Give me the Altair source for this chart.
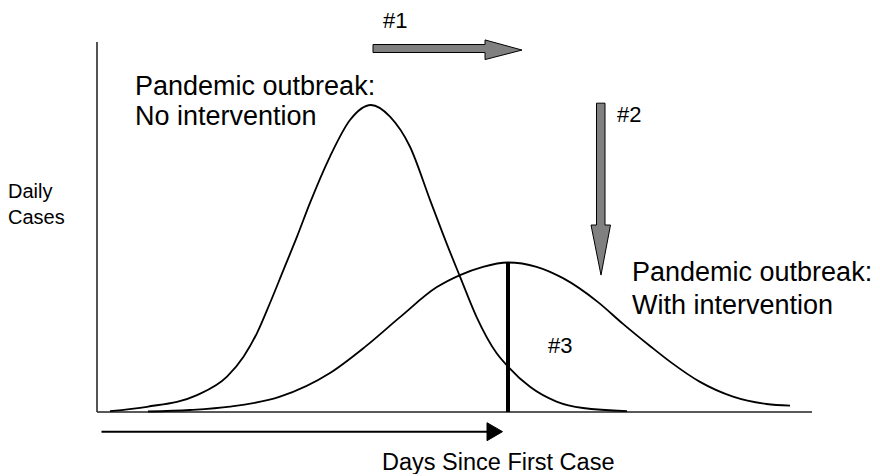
import altair as alt
import pandas as pd

# ---- data (days since first case, daily cases) ----
days_none = [2.6, 10.0, 20.0, 26.0, 29.3, 32.0, 34.6, 37.3, 40.0, 42.6, 46.6, 50.6, 54.8,
             58.6, 62.6, 66.6, 69.9, 72.6, 75.9, 79.9, 82.2, 86.6, 91.9, 97.2, 106.0]
cases_none = [0.3, 1.7, 5.5, 11.5, 18.0, 25.7, 35.5, 46.3, 57.1, 68.1, 83.2, 95.1, 100.0,
              96.2, 86.4, 69.1, 55.0, 44.1, 31.0, 19.2, 14.8, 8.2, 3.4, 1.3, 0.3]

days_int = [10.2, 18.6, 26.6, 36.6, 46.6, 53.6, 60.6, 67.9, 72.6, 77.2, 82.2, 87.9, 93.2,
            100.2, 105.2, 110.6, 114.6, 120.6, 127.2, 133.9, 138.6]
cases_int = [0.16, 0.65, 1.73, 4.98, 12.7, 21.2, 30.9, 40.6, 44.6, 47.3, 48.7, 47.3, 43.6,
             35.8, 28.7, 21.5, 16.4, 9.8, 5.0, 2.6, 2.05]

peak_day_int = 82.2
peak_cases_int = 48.7

X_DOMAIN = [-17.8, 155.0]
Y_DOMAIN = [-20.2, 131.6]

# axis frame
axis_x_end = 143.0
axis_y_end = 120.5

# arrow #1 (horizontal, pointing right): x, upper y, lower y
arr1_x = [55.2, 77.6, 77.61, 85.0]
arr1_y = [119.7, 119.7, 121.2, 117.9]
arr1_y2 = [117.1, 117.1, 114.8, 117.9]

# arrow #2 (vertical, pointing down): y, left x, right x
arr2_y = [44.6, 60.9, 60.91, 100.6]
arr2_x = [100.8, 98.8, 99.9, 99.9]
arr2_x2 = [100.8, 102.7, 101.6, 101.6]

# time arrow under the axis
time_shaft = [0.9, 78.5, -6.4]
time_head_x = [78.0, 81.1]
time_head_y = [-3.5, -6.4]
time_head_y2 = [-9.35, -6.4]

# labels
big_labels = ["Pandemic outbreak:", "No intervention", "Pandemic outbreak:", "With intervention"]
big_x = [7.6, 7.6, 107.0, 107.0]
big_y = [103.3, 93.5, 42.7, 31.9]

num_labels = ["#1", "#2", "#3"]
num_x = [57.2, 104.0, 90.2]
num_y = [125.1, 94.6, 19.2]

ylab = ["Daily", "Cases"]
ylab_x = [-17.8, -17.8]
ylab_y = [69.7, 61.2]

xlab = ["Days Since First Case"]
xlab_x = [57.0]
xlab_y = [-18.9]

FONT = "Liberation Sans"

xs = alt.Scale(domain=X_DOMAIN, nice=False, zero=False)
ys = alt.Scale(domain=Y_DOMAIN, nice=False, zero=False)

def X(f="x"):
    return alt.X(f"{f}:Q", scale=xs, axis=None)

def Y(f="y"):
    return alt.Y(f"{f}:Q", scale=ys, axis=None)

curves = pd.DataFrame({
    "x": days_none + days_int,
    "y": cases_none + cases_int,
    "s": ["none"] * len(days_none) + ["int"] * len(days_int),
})

yaxis = alt.Chart(pd.DataFrame({"x": [0.0], "y": [0.0], "y2": [axis_y_end]})).mark_rule(
    color="#555555", strokeWidth=2).encode(x=X(), y=Y(), y2="y2:Q")
xaxis = alt.Chart(pd.DataFrame({"x": [0.0], "x2": [axis_x_end], "y": [0.0]})).mark_rule(
    color="#222222", strokeWidth=1.5).encode(x=X(), x2="x2:Q", y=Y())

lines = alt.Chart(curves).mark_line(interpolate="monotone", color="black", strokeWidth=1.8).encode(
    x=X(), y=Y(), detail="s:N")

peak = alt.Chart(pd.DataFrame({"x": [peak_day_int], "y": [0.0], "y2": [peak_cases_int]})).mark_rule(
    color="black", strokeWidth=4).encode(x=X(), y=Y(), y2="y2:Q")

a1 = alt.Chart(pd.DataFrame({"x": arr1_x, "y": arr1_y, "y2": arr1_y2})).mark_area(
    orient="vertical", fill="#808080", stroke="black", strokeWidth=1, opacity=1).encode(
    x=X(), y=Y(), y2="y2:Q")

a2 = alt.Chart(pd.DataFrame({"y": arr2_y, "x": arr2_x, "x2": arr2_x2})).mark_area(
    orient="horizontal", fill="#808080", stroke="black", strokeWidth=1, opacity=1).encode(
    y=Y(), x=X(), x2="x2:Q")

t_shaft = alt.Chart(pd.DataFrame({"x": [time_shaft[0]], "x2": [time_shaft[1]], "y": [time_shaft[2]]})).mark_rule(
    color="black", strokeWidth=2).encode(x=X(), x2="x2:Q", y=Y())
t_head = alt.Chart(pd.DataFrame({"x": time_head_x, "y": time_head_y, "y2": time_head_y2})).mark_area(
    orient="vertical", fill="black", stroke="black", strokeWidth=1, opacity=1).encode(
    x=X(), y=Y(), y2="y2:Q")

def text_layer(labels, xv, yv, size):
    return alt.Chart(pd.DataFrame({"x": xv, "y": yv, "t": labels})).mark_text(
        align="left", baseline="alphabetic", font=FONT, fontSize=size, color="black").encode(
        x=X(), y=Y(), text="t:N")

txt_big = text_layer(big_labels, big_x, big_y, 27)
txt_num = text_layer(num_labels, num_x, num_y, 22)
txt_ylab = text_layer(ylab, ylab_x, ylab_y, 20)
txt_xlab = text_layer(xlab, xlab_x, xlab_y, 23.5)

chart = alt.layer(
    yaxis, xaxis, lines, peak, a1, a2, t_shaft, t_head,
    txt_big, txt_num, txt_ylab, txt_xlab
).properties(
    width=864, height=466,
    autosize=alt.AutoSizeParams(type="none"),
    padding=0,
).configure_view(stroke=None)

chart.save("out.html", embed_options={"renderer": "svg", "actions": False})
